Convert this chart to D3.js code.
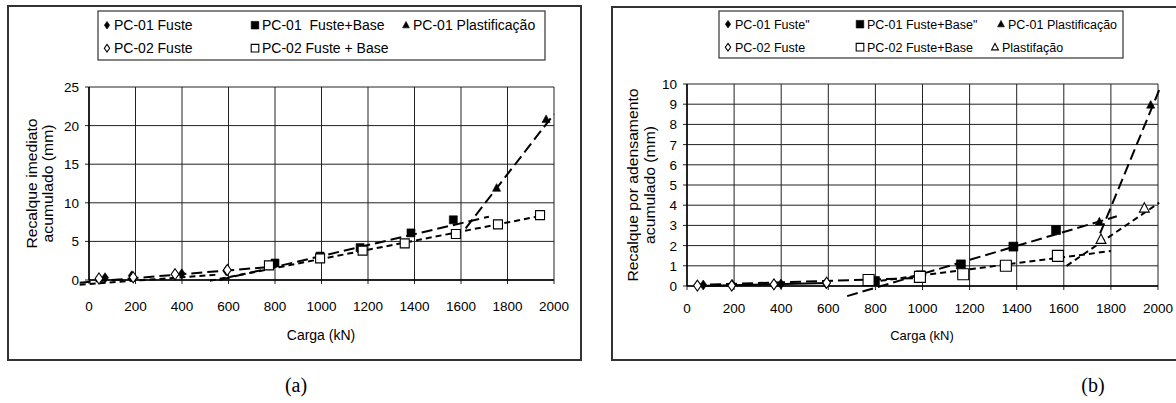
<!DOCTYPE html>
<html>
<head>
<meta charset="utf-8">
<script src="https://cdn.jsdelivr.net/npm/d3@7"></script>
<style>
  body { margin: 0; background: #fff; }
  svg { display: block; font-family: "Liberation Sans", Arial, sans-serif; }
</style>
</head>
<body>
<svg id="chart" width="1176" height="403"></svg>
<script>
// ---- panel (a): recalque imediato ----
var a_pc01Fuste     = [[69, 0.3], [184, 0.55], [399, 0.8], [590, 1.2]];
var a_pc02Fuste     = [[43, 0.2], [190, 0.35], [370, 0.74], [595, 1.3]];
var a_pc01Base      = [[800, 2.2], [994, 3.1], [1166, 4.2], [1385, 6.1], [1567, 7.8]];
var a_pc02Base      = [[774, 1.9], [994, 2.8], [1177, 3.8], [1358, 4.75], [1578, 5.95], [1759, 7.2], [1940, 8.4]];
var a_pc01Plast     = [[1753, 11.9], [1966, 20.8]];
var a_trendLong     = [[[-40, -0.35], [780, 1.7]], [[560, 0], [1720, 8.2]], [[1620, 6.7], [2000, 21.5]]];
var a_trendShort    = [[[-40, -0.6], [560, 0.7]], [[520, -0.1], [1960, 8.4]]];
var a_yTicks        = [0, 5, 10, 15, 20, 25];

// ---- panel (b): recalque por adensamento ----
var b_pc01Fuste     = [[69, 0.05], [192, 0.08], [399, 0.1], [590, 0.13]];
var b_pc02Fuste     = [[44, 0.02], [190, 0.02], [369, 0.08], [593, 0.16]];
var b_pc01Base      = [[798, 0.25], [992, 0.53], [1163, 1.07], [1386, 1.95], [1567, 2.77]];
var b_pc02Base      = [[771, 0.3], [989, 0.45], [1173, 0.58], [1354, 1.0], [1575, 1.49]];
var b_pc01Plast     = [[1751, 3.18], [1969, 8.96]];
var b_pc02Plast     = [[1758, 2.3], [1942, 3.85]];
var b_trendLong     = [[[30, 0.05], [1000, 0.4]], [[680, -0.5], [1825, 3.45]], [[1754, 2.6], [2005, 9.7]]];
var b_trendShort    = [[[780, 0.2], [1800, 1.73]], [[1612, 1.0], [2005, 4.12]]];
var b_trendSolid    = [[[40, 0.0], [600, 0.15]]];
var b_yTicks        = [0, 1, 2, 3, 4, 5, 6, 7, 8, 9, 10];

var xTicks = [0, 200, 400, 600, 800, 1000, 1200, 1400, 1600, 1800, 2000];

var svg = d3.select("#chart");

var symbolPath = {
    diamond: function(s) { return "M0," + (-s) + "L" + (s * 0.7) + ",0L0," + s + "L" + (-s * 0.7) + ",0Z"; },
    square: function(s) { return "M" + (-s) + "," + (-s) + "h" + (2 * s) + "v" + (2 * s) + "h" + (-2 * s) + "Z"; },
    triangle: function(s) { return "M0," + (-s) + "L" + (s * 0.9) + "," + (s * 0.7) + "L" + (-s * 0.9) + "," + (s * 0.7) + "Z"; }
};

function drawMarker(g, type, filled, size, x, y)
{
    g.append("path")
        .attr("d", symbolPath[type](size))
        .attr("transform", "translate(" + x + "," + y + ")")
        .attr("fill", filled ? "#000" : "#fff")
        .attr("stroke", "#000")
        .attr("stroke-width", filled ? 0.6 : 1.1);
}

function drawPanel(p)
{
    var g = svg.append("g");

    g.append("rect")
        .attr("x", p.box[0]).attr("y", p.box[1])
        .attr("width", p.box[2]).attr("height", p.box[3])
        .attr("fill", "none").attr("stroke", "#333").attr("stroke-width", 2);

    var x = d3.scaleLinear().domain([0, 2000]).range([p.plot[0], p.plot[1]]);
    var y = d3.scaleLinear().domain([0, p.yMax]).range([p.plot[3], p.plot[2]]);

    // grid
    g.append("g").selectAll("line").data(xTicks).enter().append("line")
        .attr("x1", function(d) { return x(d); }).attr("x2", function(d) { return x(d); })
        .attr("y1", y(p.yMax)).attr("y2", y(0) + 4)
        .attr("stroke", "#222").attr("stroke-width", 1);
    g.append("g").selectAll("line").data(p.yTicks).enter().append("line")
        .attr("x1", x(0) - 4).attr("x2", x(2000))
        .attr("y1", function(d) { return y(d); }).attr("y2", function(d) { return y(d); })
        .attr("stroke", "#222").attr("stroke-width", 1);

    g.append("line").attr("x1", x(0)).attr("x2", x(0)).attr("y1", y(p.yMax)).attr("y2", y(0))
        .attr("stroke", "#000").attr("stroke-width", 1.5);
    g.append("line").attr("x1", x(0)).attr("x2", x(2000)).attr("y1", y(0)).attr("y2", y(0))
        .attr("stroke", "#000").attr("stroke-width", 1.5);

    // tick labels
    g.append("g").selectAll("text").data(xTicks).enter().append("text")
        .attr("x", function(d) { return x(d); }).attr("y", y(0) + p.xLabOff)
        .attr("text-anchor", "middle").attr("font-size", 13.5)
        .text(function(d) { return d; });
    g.append("g").selectAll("text").data(p.yTicks).enter().append("text")
        .attr("x", x(0) - 10).attr("y", function(d) { return y(d) + 5; })
        .attr("text-anchor", "end").attr("font-size", 13.5)
        .text(function(d) { return d; });

    // titles
    g.append("text").attr("x", p.xTitle[0]).attr("y", p.xTitle[1])
        .attr("text-anchor", "middle").attr("font-size", p.titleSize).text("Carga (kN)");
    var cy = (p.plot[2] + p.plot[3]) / 2;
    p.yTitle.forEach(function(t, i) {
        g.append("text")
            .attr("transform", "translate(" + (p.yTitleX[i] + 5) + "," + cy + ") rotate(-90) scale(1.14,1)")
            .attr("text-anchor", "middle").attr("font-size", 13.8).text(t);
    });

    // trend lines
    var line = d3.line().x(function(d) { return x(d[0]); }).y(function(d) { return y(d[1]); });
    function trends(list, dash) {
        g.append("g").selectAll("path").data(list || []).enter().append("path")
            .attr("d", line).attr("fill", "none").attr("stroke", "#000")
            .attr("stroke-width", 2).attr("stroke-dasharray", dash);
    }
    trends(p.trendSolid, null);
    trends(p.trendLong, "11,5");
    trends(p.trendShort, "6,4");

    // markers
    p.series.forEach(function(s) {
        s.data.forEach(function(d) {
            drawMarker(g, s.type, s.filled, s.size, x(d[0]), y(d[1]));
        });
    });

    // legend
    var l = p.legend;
    g.append("rect").attr("x", l.box[0]).attr("y", l.box[1]).attr("width", l.box[2]).attr("height", l.box[3])
        .attr("fill", "#fff").attr("stroke", "#333").attr("stroke-width", 1.2);
    l.items.forEach(function(it) {
        var s = p.series[it.s];
        drawMarker(g, s.type, s.filled, 3.8, it.x, it.y - 4.8);
        g.append("text").attr("x", it.x + 7).attr("y", it.y)
            .attr("font-size", l.size).attr("xml:space", "preserve").text(s.name);
    });

    svg.append("text").attr("x", p.caption[0]).attr("y", p.caption[1])
        .attr("text-anchor", "middle").attr("font-family", "Liberation Serif, Times New Roman, serif")
        .attr("font-size", 20).text(p.caption[2]);
}

drawPanel({
    box: [8, 6, 573, 354],
    plot: [89, 554, 87, 280],
    yMax: 25,
    yTicks: a_yTicks,
    xLabOff: 31,
    xTitle: [321, 340],
    titleSize: 14,
    yTitle: ["Recalque imediato", "acumulado (mm)"],
    yTitleX: [32, 48],
    trendLong: a_trendLong,
    trendShort: a_trendShort,
    series: [
        { name: "PC-01 Fuste", type: "diamond", filled: true, size: 5, data: a_pc01Fuste },
        { name: "PC-02 Fuste", type: "diamond", filled: false, size: 5.5, data: a_pc02Fuste },
        { name: "PC-01  Fuste+Base", type: "square", filled: true, size: 4, data: a_pc01Base },
        { name: "PC-02 Fuste + Base", type: "square", filled: false, size: 4.5, data: a_pc02Base },
        { name: "PC-01 Plastificação", type: "triangle", filled: true, size: 4.5, data: a_pc01Plast }
    ],
    legend: {
        box: [98, 11, 447, 49],
        size: 14,
        items: [
            { s: 0, x: 107, y: 30 }, { s: 2, x: 255, y: 30 }, { s: 4, x: 406, y: 30 },
            { s: 1, x: 107, y: 53 }, { s: 3, x: 255, y: 53 }
        ]
    },
    caption: [296, 392, "(a)"]
});

drawPanel({
    box: [612, 7, 580, 353],
    plot: [687, 1158, 84, 286],
    yMax: 10,
    yTicks: b_yTicks,
    xLabOff: 27,
    xTitle: [922, 340],
    titleSize: 13,
    yTitle: ["Recalque por adensamento", "acumulado (mm)"],
    yTitleX: [633, 650],
    trendSolid: b_trendSolid,
    trendLong: b_trendLong,
    trendShort: b_trendShort,
    series: [
        { name: "PC-01 Fuste\"", type: "diamond", filled: true, size: 5, data: b_pc01Fuste },
        { name: "PC-02 Fuste", type: "diamond", filled: false, size: 5.5, data: b_pc02Fuste },
        { name: "PC-01 Fuste+Base\"", type: "square", filled: true, size: 4.5, data: b_pc01Base },
        { name: "PC-02 Fuste+Base", type: "square", filled: false, size: 5.5, data: b_pc02Base },
        { name: "PC-01 Plastificação", type: "triangle", filled: true, size: 4.5, data: b_pc01Plast },
        { name: "Plastifação", type: "triangle", filled: false, size: 5.5, data: b_pc02Plast }
    ],
    legend: {
        box: [719, 11, 404, 47],
        size: 12.5,
        items: [
            { s: 0, x: 728, y: 29 }, { s: 2, x: 860, y: 29 }, { s: 4, x: 1001, y: 29 },
            { s: 1, x: 728, y: 52 }, { s: 3, x: 860, y: 52 }, { s: 5, x: 995, y: 52 }
        ]
    },
    caption: [1093, 392, "(b)"]
});
</script>
</body>
</html>
